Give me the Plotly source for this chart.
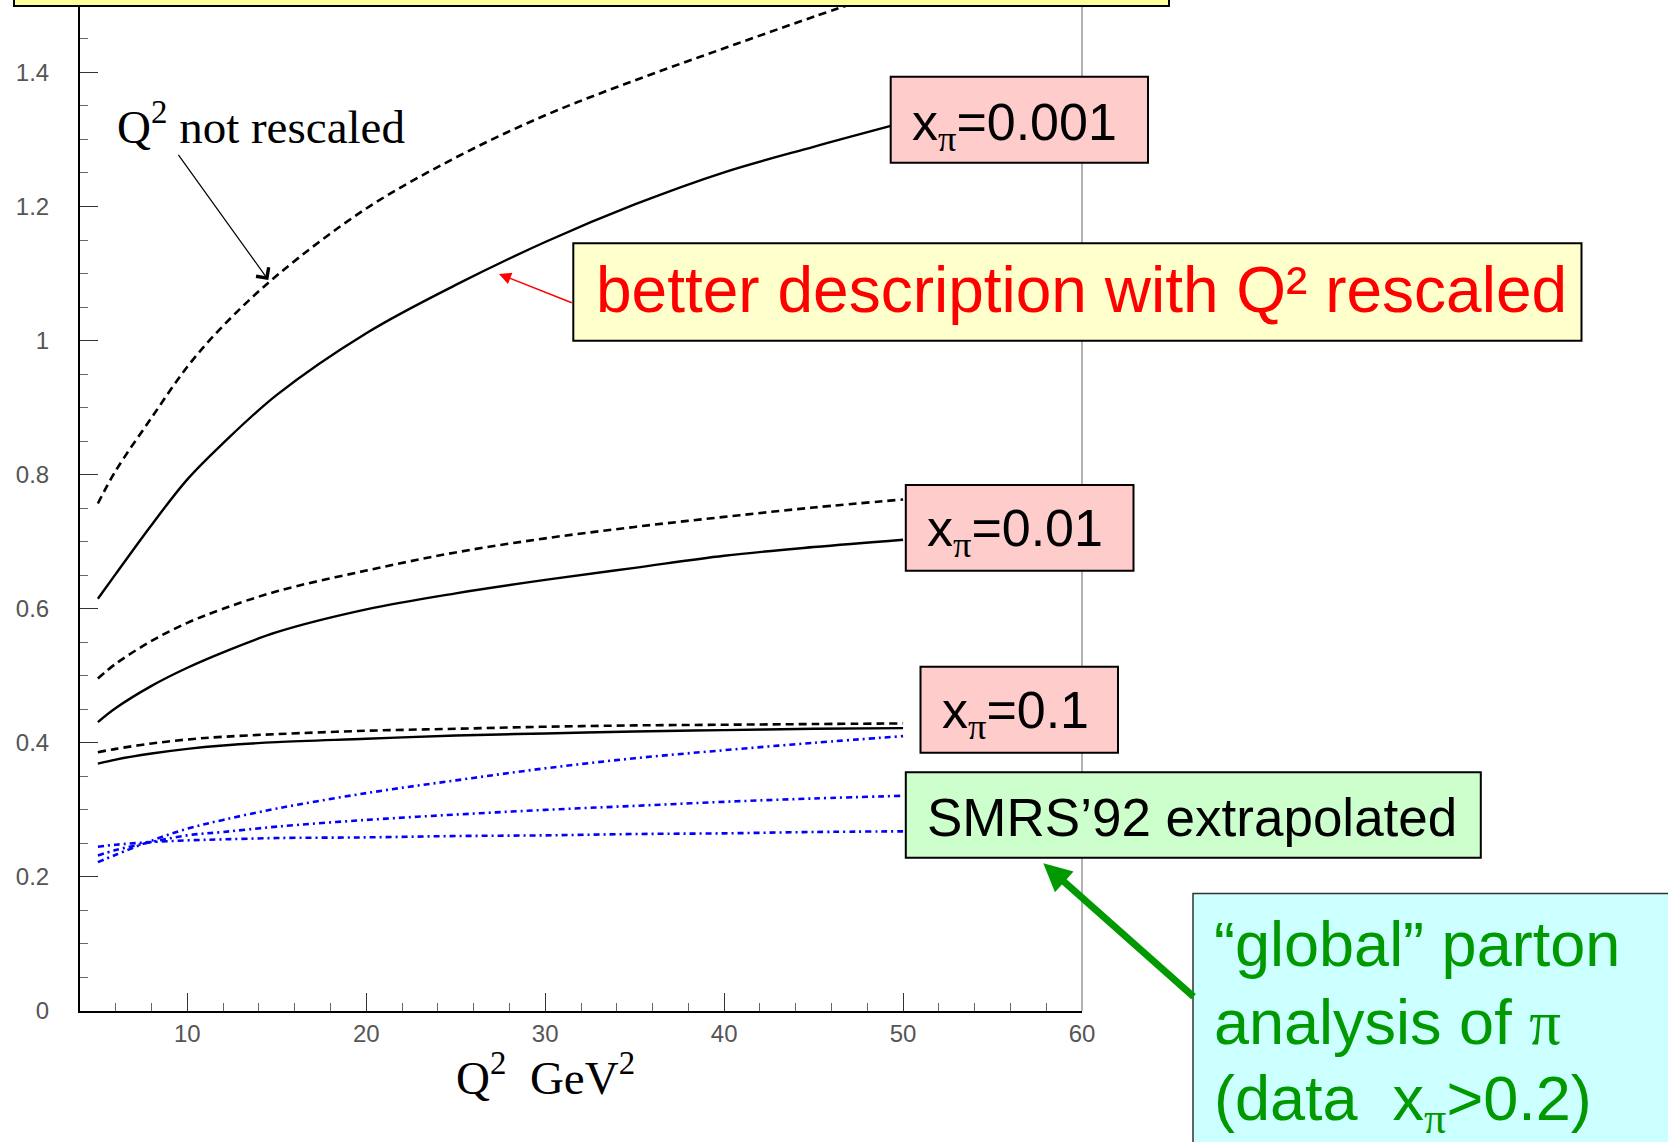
import plotly.graph_objects as go

# ---------------- data ----------------
q2 = [5, 6, 8, 10, 12, 15, 20, 25, 30, 35, 40, 45, 50]

rescaled_x0001 = [0.615, 0.652, 0.725, 0.793, 0.847, 0.919, 1.011, 1.083, 1.147, 1.203, 1.251, 1.289, 1.325]
notresc_x0001 = [0.757, 0.806, 0.885, 0.961, 1.022, 1.097, 1.197, 1.273, 1.336, 1.388, 1.436, 1.483, 1.528]
rescaled_x001 = [0.431, 0.452, 0.485, 0.512, 0.535, 0.565, 0.599, 0.623, 0.643, 0.661, 0.679, 0.692, 0.703]
notresc_x001 = [0.496, 0.518, 0.552, 0.579, 0.600, 0.626, 0.657, 0.684, 0.705, 0.722, 0.737, 0.751, 0.763]
rescaled_x01 = [0.369, 0.375, 0.384, 0.391, 0.396, 0.401, 0.406, 0.411, 0.414, 0.417, 0.419, 0.421, 0.422]
notresc_x01 = [0.386, 0.391, 0.399, 0.405, 0.409, 0.413, 0.418, 0.421, 0.424, 0.426, 0.427, 0.428, 0.429]
smrs_a = [0.222, 0.233, 0.254, 0.272, 0.285, 0.302, 0.325, 0.344, 0.362, 0.377, 0.389, 0.400, 0.410]
smrs_b = [0.232, 0.240, 0.252, 0.262, 0.267, 0.275, 0.285, 0.293, 0.300, 0.306, 0.312, 0.317, 0.321]
smrs_c = [0.245, 0.248, 0.252, 0.2545, 0.256, 0.258, 0.259, 0.261, 0.262, 0.264, 0.265, 0.267, 0.268]

x_ticks = [10, 20, 30, 40, 50, 60]
y_ticks = [0, 0.2, 0.4, 0.6, 0.8, 1, 1.2, 1.4]

# ---------------- figure ----------------
W, H = 1668, 1142
ML, MR, MT, MB = 80, 586, 0, 131
PW, PH = W - ML - MR, H - MT - MB

def fx(p):
    return (p - ML) / PW

def fy(p):
    return (MT + PH - p) / PH

fig = go.Figure()

black_dash = dict(color="black", width=2.6, dash="8px,5px")
black_solid = dict(color="black", width=2.4)
blue_dd = dict(color="#0000ff", width=2.6, dash="6px,4px,2px,4px")

series = [
    ("x=0.001 not rescaled", notresc_x0001, black_dash),
    ("x=0.001 rescaled", rescaled_x0001, black_solid),
    ("x=0.01 not rescaled", notresc_x001, black_dash),
    ("x=0.01 rescaled", rescaled_x001, black_solid),
    ("x=0.1 not rescaled", notresc_x01, black_dash),
    ("x=0.1 rescaled", rescaled_x01, black_solid),
    ("SMRS a", smrs_a, blue_dd),
    ("SMRS b", smrs_b, blue_dd),
    ("SMRS c", smrs_c, blue_dd),
]
for name, ys, ln in series:
    fig.add_trace(go.Scatter(x=q2, y=ys, mode="lines", name=name,
                             line=dict(shape="spline", smoothing=1.0, **ln),
                             showlegend=False, hoverinfo="skip"))

tickfont = dict(family="Liberation Sans", size=24, color="#555555")

fig.update_layout(
    width=W, height=H,
    margin=dict(l=ML, r=MR, t=MT, b=MB, autoexpand=False),
    paper_bgcolor="white", plot_bgcolor="white",
    xaxis=dict(range=[4, 60], tickvals=x_ticks, ticktext=[str(v) for v in x_ticks],
               showline=True, linecolor="black", linewidth=2,
               ticks="inside", ticklen=18, tickwidth=1, tickcolor="#333333",
               showgrid=False, zeroline=False, tickfont=tickfont,
               ticklabelstandoff=0,
               minor=dict(ticks="inside", ticklen=8, dtick=2, tick0=0,
                          tickcolor="#666666", tickwidth=1, showgrid=False)),
    yaxis=dict(range=[0, 1.508], tickvals=y_ticks, ticktext=["0", "0.2", "0.4", "0.6", "0.8", "1", "1.2", "1.4"],
               showline=True, linecolor="black", linewidth=2,
               ticks="inside", ticklen=18, tickwidth=1, tickcolor="#333333",
               showgrid=False, zeroline=False, tickfont=tickfont,
               ticklabelstandoff=24,
               minor=dict(ticks="inside", ticklen=8, dtick=0.05, tick0=0,
                          tickcolor="#666666", tickwidth=1, showgrid=False)),
)

shapes = []
# right frame line at Q2 = 60
shapes.append(dict(type="line", xref="paper", yref="paper", x0=1, x1=1, y0=0, y1=1.02,
                   line=dict(color="#666666", width=1)))

def box(x0, y0, x1, y1, fill, border="black", bw=2):
    shapes.append(dict(type="rect", xref="paper", yref="paper",
                       x0=fx(x0), x1=fx(x1), y0=fy(y1), y1=fy(y0),
                       fillcolor=fill, line=dict(color=border, width=bw)))

box(14, -30, 1169, 6, "#ffff99")
box(890.7, 76.7, 1148, 162.7, "#ffcccc")
box(573.3, 243.3, 1581.5, 340.7, "#ffffcc")
box(905.8, 485, 1133.5, 570.7, "#ffcccc")
box(920.5, 666.7, 1118, 752.7, "#ffcccc")
box(905.8, 772.3, 1480.8, 857.7, "#ccffcc")
box(1193, 893.5, 1720, 1200, "#ccffff", border="#333333", bw=1.5)
fig.update_layout(shapes=shapes)

ann = []
PI = '<span style="font-family:Liberation Serif">π</span>'

def text(px, py, s, size, color="black", family="Liberation Sans", xanchor="left"):
    ann.append(dict(xref="paper", yref="paper", x=fx(px), y=fy(py), text=s,
                    showarrow=False, xanchor=xanchor, yanchor="middle",
                    font=dict(family=family, size=size, color=color)))

def arrow(tipx, tipy, tailx, taily, color, width, head, size):
    ann.append(dict(xref="paper", yref="paper", x=fx(tipx), y=fy(tipy), text="",
                    showarrow=True, ax=tailx - tipx, ay=taily - tipy,
                    arrowcolor=color, arrowwidth=width, arrowhead=head,
                    arrowsize=size, standoff=0))

text(910, 126, "x<sub>" + PI + "</sub>=0.001", 52)
text(925, 532, "x<sub>" + PI + "</sub>=0.01", 52)
text(940, 714, "x<sub>" + PI + "</sub>=0.1", 52)
text(925, 817, "SMRS’92 extrapolated", 53)
text(594, 290, "better description with Q² rescaled", 64, color="#ff0000")
text(115, 124, "Q<sup>2</sup> not rescaled", 47, family="Liberation Serif")
text(545, 1074, "Q<sup>2</sup>\u00a0\u00a0GeV<sup>2</sup>", 47, family="Liberation Serif", xanchor="center")
green = "#009900"
text(1212, 944, "“global” parton", 63, color=green)
text(1212, 1022, "analysis of " + PI, 63, color=green)
text(1212, 1103, "(data\u00a0\u00a0x<sub>" + PI + "</sub>&gt;0.2)", 63, color=green)

arrow(268.3, 280, 177.3, 153.3, "black", 1.2, 4, 2.5)
arrow(499, 274, 573.3, 303.3, "#ff0000", 1.5, 2, 1.6)
arrow(1043.3, 863.3, 1195, 998, green, 7, 2, 0.8)

fig.update_layout(annotations=ann)

fig.write_html("out.html")
